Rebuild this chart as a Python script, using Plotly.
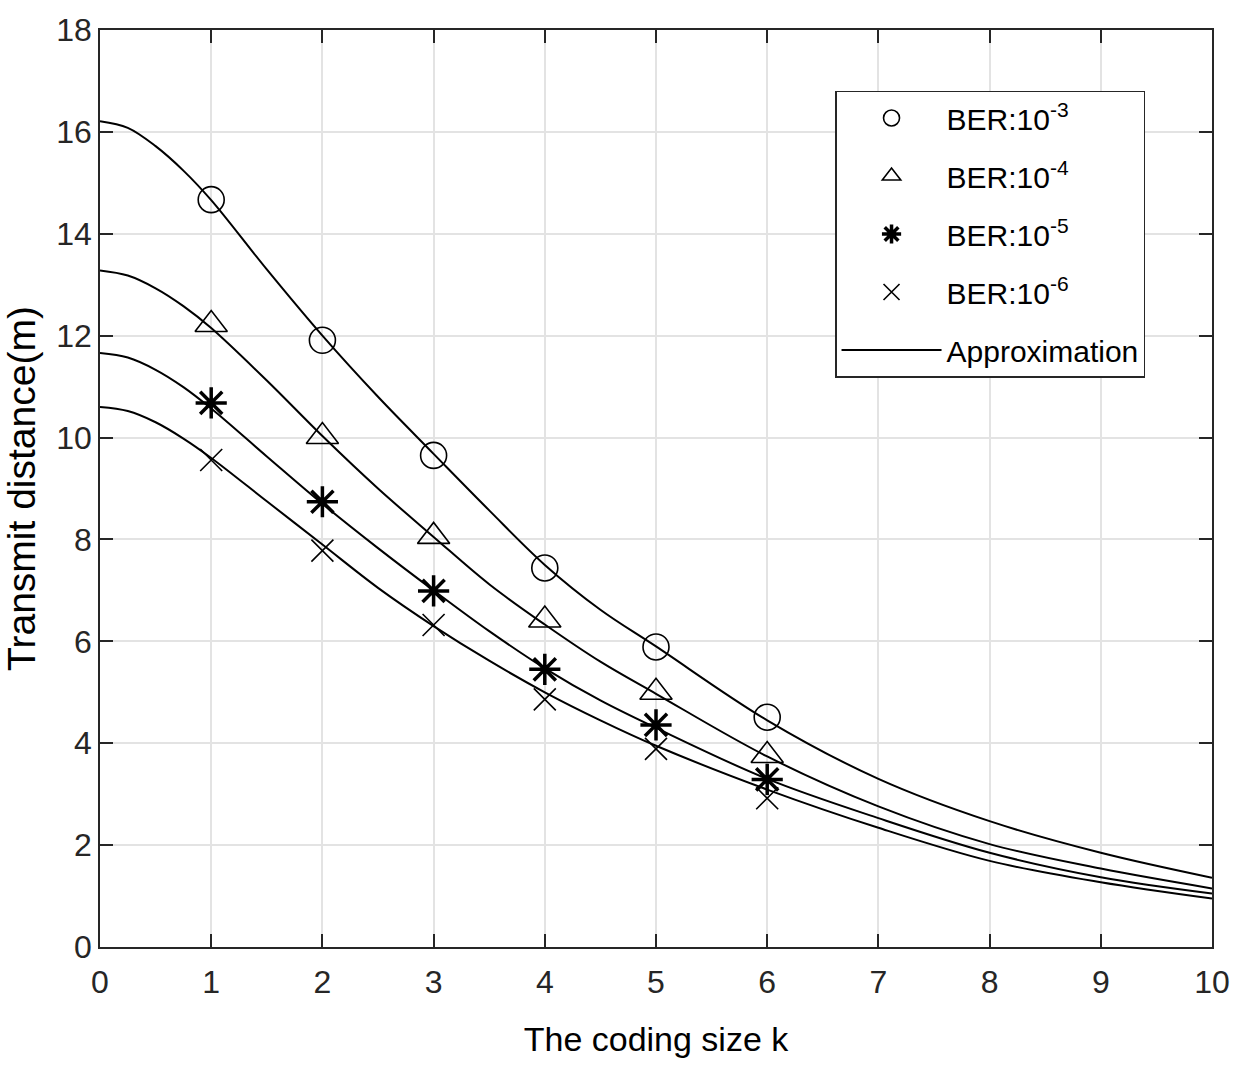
import plotly.graph_objects as go

# Simulated transmit distance at each coding size k
k_sim = [1, 2, 3, 4, 5, 6]
dist_e3 = [14.67, 11.91, 9.65, 7.44, 5.89, 4.51]
dist_e4 = [12.22, 10.02, 8.06, 6.42, 5.00, 3.76]
dist_e5 = [10.68, 8.74, 6.99, 5.45, 4.36, 3.29]
dist_e6 = [9.56, 7.78, 6.32, 4.86, 3.89, 2.92]

# Approximation curves sampled along k
k_fit = [0, 0.25, 0.5, 0.75, 1, 1.5, 2, 2.5, 3, 3.5, 4, 4.5, 5, 6, 7, 8, 9, 10]
fit_e3 = [16.21, 16.08, 15.72, 15.24, 14.66, 13.30, 12.00, 10.80, 9.68, 8.57, 7.50, 6.62, 5.90, 4.45, 3.30, 2.47, 1.85, 1.36]
fit_e4 = [13.28, 13.18, 12.93, 12.58, 12.15, 11.12, 10.03, 9.00, 8.05, 7.12, 6.33, 5.60, 4.97, 3.74, 2.76, 2.02, 1.54, 1.15]
fit_e5 = [11.66, 11.57, 11.33, 10.99, 10.57, 9.63, 8.70, 7.83, 7.00, 6.20, 5.47, 4.84, 4.30, 3.30, 2.53, 1.85, 1.37, 1.05]
fit_e6 = [10.60, 10.52, 10.30, 9.98, 9.60, 8.75, 7.90, 7.05, 6.30, 5.62, 5.00, 4.45, 3.95, 3.09, 2.34, 1.69, 1.27, 0.95]

labels = ["BER:10<sup>-3</sup>", "BER:10<sup>-4</sup>",
          "BER:10<sup>-5</sup>", "BER:10<sup>-6</sup>"]

FONT = "Liberation Sans, Arial, sans-serif"
INK = "#262626"

fig = go.Figure()

marker_styles = [
    dict(symbol="circle-open", size=26, line=dict(width=1.6, color="black")),
    dict(symbol="triangle-up-open", size=28, line=dict(width=1.6, color="black")),
    dict(symbol="asterisk-open", size=26, line=dict(width=3.5, color="black")),
    dict(symbol="x-thin-open", size=22, line=dict(width=1.6, color="black")),
]

for i, (name, ys, mk) in enumerate(zip(labels, [dist_e3, dist_e4, dist_e5, dist_e6], marker_styles)):
    fig.add_trace(go.Scatter(x=k_sim, y=ys, mode="markers", name=name,
                             legendgroup=f"sim{i}",
                             marker=dict(color="black", **mk)))

for i, ys in enumerate([fit_e3, fit_e4, fit_e5, fit_e6]):
    fig.add_trace(go.Scatter(x=k_fit, y=ys, mode="lines", name="Approximation",
                             line=dict(color="black", width=2, shape="spline", smoothing=1.0),
                             legendgroup="approx", showlegend=(i == 0)))

axis_common = dict(
    showline=True, linecolor=INK, linewidth=1.5, mirror="ticks",
    ticks="inside", ticklen=13, tickwidth=1.5, tickcolor=INK,
    showgrid=True, gridcolor="#e3e3e3", gridwidth=1.5,
    zeroline=False,
    tickfont=dict(family=FONT, size=32, color=INK),
)

fig.update_xaxes(range=[0, 10], dtick=1, tick0=0,
                 title=dict(text="The coding size k", font=dict(family=FONT, size=34, color="black"),
                            standoff=28),
                 ticklabelstandoff=6,
                 **axis_common)
fig.update_yaxes(range=[0, 18], dtick=2, tick0=0,
                 title=dict(text="Transmit distance(m)", font=dict(family=FONT, size=39, color="black"),
                            standoff=10),
                 **axis_common)

fig.update_layout(
    width=1242, height=1069,
    margin=dict(l=100, r=26, t=22, b=122),
    plot_bgcolor="white", paper_bgcolor="white",
    legend=dict(x=0.661, y=0.934, xanchor="left", yanchor="top",
                bgcolor="white", bordercolor=INK, borderwidth=1.5,
                font=dict(family=FONT, size=30, color="black"),
                itemwidth=100, tracegroupgap=16, traceorder="grouped"),
)

fig.write_html("out.html")
